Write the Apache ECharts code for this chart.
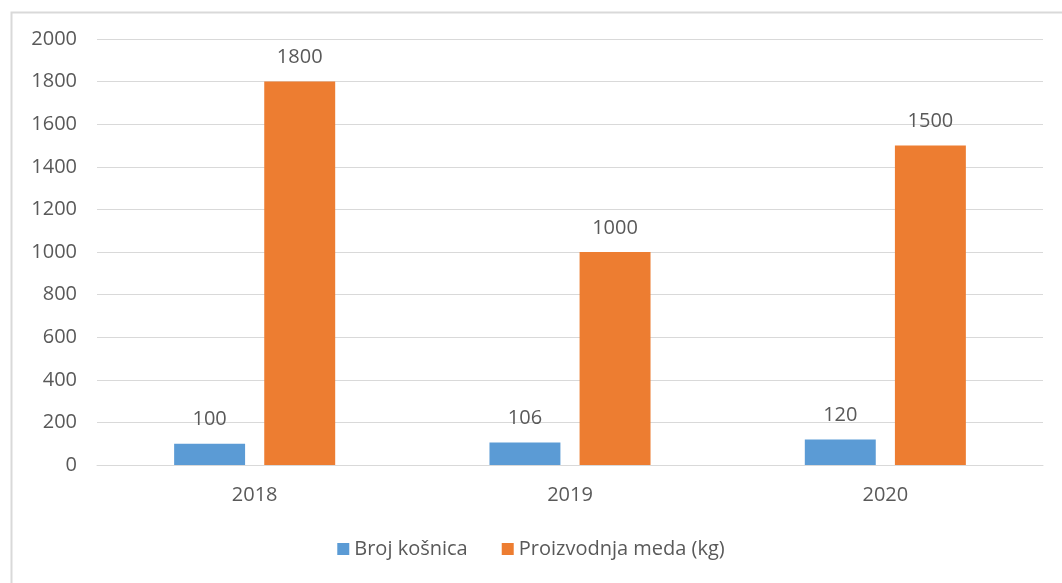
<!DOCTYPE html>
<html><head><meta charset="utf-8">
<script src="https://cdn.jsdelivr.net/npm/echarts@6/dist/echarts.min.js"></script>
<style>html,body{margin:0;padding:0;background:#fff}#c{width:1062px;height:583px}</style>
</head><body><div id="c"></div>
<script>
const categories = ['2018', '2019', '2020'];
const seriesNames = ['Broj košnica', 'Proizvodnja meda (kg)'];
const brojKosnica = [100, 106, 120];
const proizvodnjaMeda = [1800, 1000, 1500];
const yTicks = { min: 0, max: 2000, interval: 200 };

const font = '"Open Sans", "Noto Sans", sans-serif';
const txt = '#595959';
const fs = 20;
const chart = echarts.init(document.getElementById('c'), null, { renderer: 'canvas' });
chart.setOption({
  animation: false,
  backgroundColor: '#fff',
  textStyle: { fontFamily: font },
  graphic: [{
    type: 'rect', left: 9, top: 10, shape: { width: 1100, height: 600 },
    style: { fill: 'none', stroke: '#d9d9d9', lineWidth: 2 }, silent: true
  }],
  grid: { left: 97, right: 19, top: 39, bottom: 118, containLabel: false },
  legend: {
    bottom: 19, left: 'center', itemWidth: 12, itemHeight: 12, itemGap: 34,
    icon: 'rect',
    textStyle: { color: txt, fontSize: fs, fontFamily: font },
    data: seriesNames
  },
  xAxis: {
    type: 'category', data: categories,
    axisLine: { show: true, lineStyle: { color: '#d9d9d9' } },
    axisTick: { show: false },
    axisLabel: { color: txt, fontSize: fs, margin: 20, fontFamily: font }
  },
  yAxis: {
    type: 'value', min: yTicks.min, max: yTicks.max, interval: yTicks.interval,
    axisLine: { show: false }, axisTick: { show: false },
    axisLabel: { color: txt, fontSize: fs, margin: 20, fontFamily: font, formatter: v => String(v) },
    splitLine: { lineStyle: { color: '#d9d9d9' } }
  },
  series: [
    {
      name: seriesNames[0], type: 'bar', data: brojKosnica,
      barWidth: '22.5%', barGap: '27%',
      itemStyle: { color: '#5B9BD5' },
      label: { show: true, position: 'top', distance: 14, color: txt, fontSize: fs, fontFamily: font }
    },
    {
      name: seriesNames[1], type: 'bar', data: proizvodnjaMeda,
      barWidth: '22.5%', barGap: '27%',
      itemStyle: { color: '#ED7D31' },
      label: { show: true, position: 'top', distance: 14, color: txt, fontSize: fs, fontFamily: font }
    }
  ]
});
</script></body></html>
